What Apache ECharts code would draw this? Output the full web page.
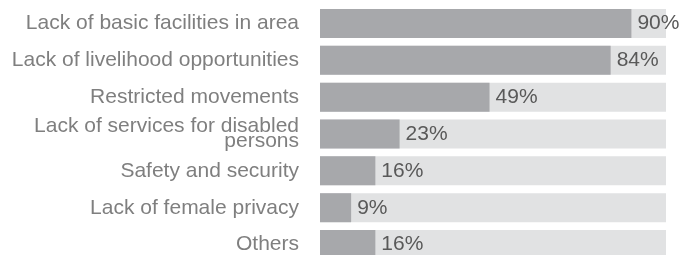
<!DOCTYPE html>
<html>
<head>
<meta charset="utf-8">
<script src="https://cdn.jsdelivr.net/npm/echarts@6/dist/echarts.min.js"></script>
<style>
  html, body { margin: 0; padding: 0; background: #fff; }
  #chart { width: 682px; height: 255px; }
</style>
</head>
<body>
<div id="chart"></div>
<script>
  // categories, top to bottom
  var categories = [
    'Lack of basic facilities in area',
    'Lack of livelihood opportunities',
    'Restricted movements',
    'Lack of services for disabled\npersons',
    'Safety and security',
    'Lack of female privacy',
    'Others'
  ];
  var values = [90, 84, 49, 23, 16, 9, 16];

  var chart = echarts.init(document.getElementById('chart'));
  chart.setOption({
    animation: false,
    grid: { left: 320, right: 16, top: 5, height: 258, containLabel: false, outerBoundsMode: 'none' },
    xAxis: {
      type: 'value',
      min: 0,
      max: 100,
      show: false
    },
    yAxis: {
      type: 'category',
      data: categories,
      inverse: true,
      axisLine: { show: false },
      axisTick: { show: false },
      axisLabel: {
        margin: 21,
        fontFamily: 'Liberation Sans',
        fontSize: 21,
        lineHeight: 15,
        color: '#7f7f7f',
        align: 'right'
      }
    },
    series: [{
      type: 'bar',
      data: values,
      barWidth: 29,
      showBackground: true,
      backgroundStyle: { color: '#e1e2e3' },
      itemStyle: { color: '#a7a8ab' },
      label: {
        show: true,
        position: 'right',
        distance: 6,
        formatter: '{c}%',
        fontFamily: 'Liberation Sans',
        fontSize: 21,
        color: '#595959'
      }
    }]
  });
</script>
</body>
</html>
